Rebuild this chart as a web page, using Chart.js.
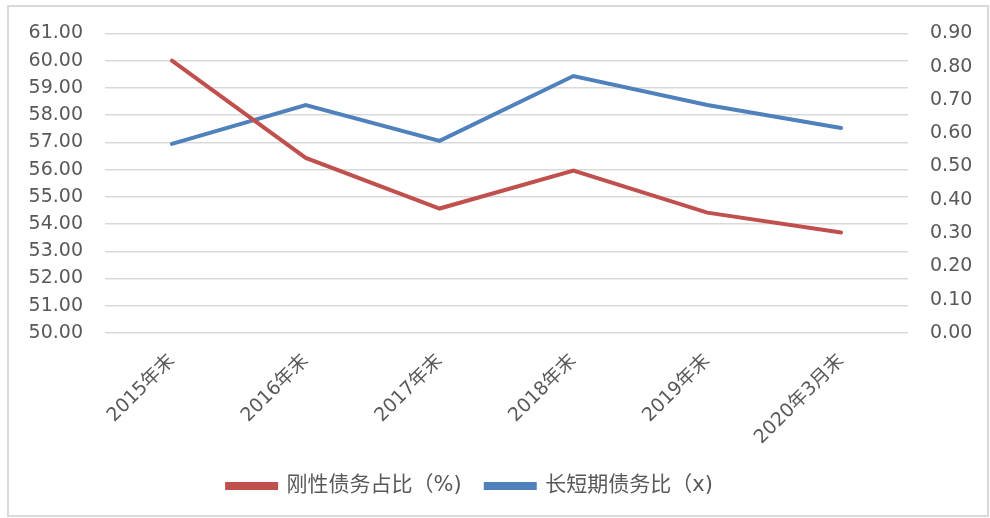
<!DOCTYPE html>
<html>
<head>
<meta charset="utf-8">
<script src="https://cdn.jsdelivr.net/npm/chart.js@4/dist/chart.umd.min.js"></script>
<style>
html,body{margin:0;padding:0;background:#fff;}
#wrap{position:relative;width:990px;height:518px;}
</style>
</head>
<body>
<div id="wrap"><canvas id="c" width="990" height="518"></canvas></div>
<script>
const categories = ['2015年末','2016年末','2017年末','2018年末','2019年末','2020年3月末'];
const rigidDebtRatio = [60.00, 56.43, 54.57, 55.96, 54.42, 53.69];
const longShortRatio = [0.568, 0.685, 0.577, 0.772, 0.685, 0.616];
const seriesNames = ['刚性债务占比（%)', '长短期债务比（x)'];

const FONT = "'DejaVu Sans','Noto Sans CJK SC',sans-serif";
const TXT = '#595959';

const borderPlugin = {
  id: 'outerBorder',
  beforeDraw(chart) {
    const ctx = chart.ctx;
    ctx.save();
    ctx.fillStyle = '#fff';
    ctx.fillRect(0, 0, chart.width, chart.height);
    ctx.strokeStyle = '#D9D9D9';
    ctx.lineWidth = 2;
    ctx.strokeRect(8, 6, 980, 510);
    ctx.restore();
  }
};

const legendShift = {
  id: 'legendShift',
  afterLayout(chart) {
    const lg = chart.legend;
    if (lg) { lg.left -= 30; lg.right -= 30; }
  }
};

new Chart(document.getElementById('c'), {
  type: 'line',
  data: {
    labels: categories,
    datasets: [
      {
        label: seriesNames[0],
        data: rigidDebtRatio,
        yAxisID: 'y',
        borderColor: '#C0504D',
        backgroundColor: '#C0504D',
        borderWidth: 4,
        pointRadius: 0,
        tension: 0,
        borderCapStyle: 'round'
      },
      {
        label: seriesNames[1],
        data: longShortRatio,
        yAxisID: 'y1',
        borderColor: '#4F81BD',
        backgroundColor: '#4F81BD',
        borderWidth: 4,
        pointRadius: 0,
        tension: 0,
        borderCapStyle: 'round'
      }
    ]
  },
  options: {
    responsive: false,
    animation: false,
    layout: { padding: { top: 32, left: 10, right: 0, bottom: 11.5 } },
    plugins: {
      legend: {
        position: 'bottom',
        labels: {
          color: TXT,
          font: { family: FONT, size: 21 },
          boxWidth: 49,
          boxHeight: 4,
          padding: 24
        }
      },
      tooltip: { enabled: false }
    },
    scales: {
      x: {
        offset: true,
        grid: { display: false, drawTicks: false },
        border: { display: false },
        ticks: {
          color: TXT,
          font: { family: FONT, size: 19 },
          minRotation: 45,
          maxRotation: 45,
          padding: 17,
          autoSkip: false
        },
        afterFit(s) { s.height = 118.5; }
      },
      y: {
        position: 'left',
        min: 50,
        max: 61,
        grid: { color: '#D9D9D9', lineWidth: 1.5, drawTicks: false },
        border: { display: false },
        ticks: {
          stepSize: 1,
          color: TXT,
          font: { family: FONT, size: 19 },
          padding: 22,
          callback: v => Number(v).toFixed(2)
        },
        afterFit(s) { s.width = 95; }
      },
      y1: {
        position: 'right',
        min: 0,
        max: 0.9,
        grid: { display: false, drawTicks: false },
        border: { display: false },
        ticks: {
          stepSize: 0.1,
          color: TXT,
          font: { family: FONT, size: 19 },
          padding: 22,
          callback: v => Number(v).toFixed(2)
        },
        afterFit(s) { s.width = 82; }
      }
    }
  },
  plugins: [borderPlugin, legendShift]
});
</script>
</body>
</html>
